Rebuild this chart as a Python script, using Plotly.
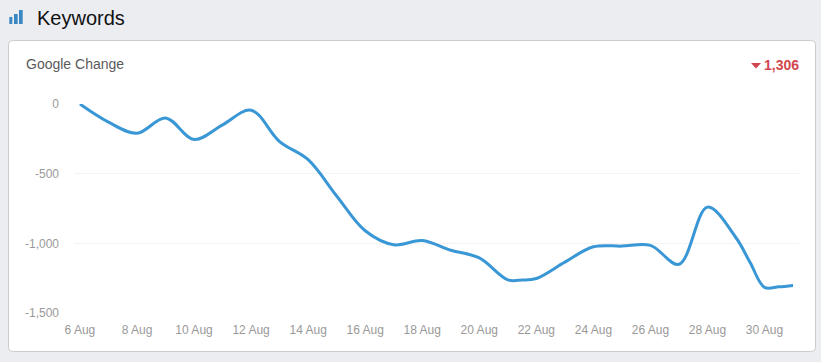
import plotly.graph_objects as go

W, H = 821, 362

days = ["2023-08-06", "2023-08-07", "2023-08-08", "2023-08-09", "2023-08-10", "2023-08-11",
        "2023-08-12", "2023-08-13", "2023-08-14", "2023-08-15", "2023-08-16", "2023-08-17",
        "2023-08-18", "2023-08-19", "2023-08-20", "2023-08-21", "2023-08-21 12:00", "2023-08-22",
        "2023-08-23", "2023-08-24", "2023-08-25", "2023-08-26", "2023-08-27", "2023-08-28",
        "2023-08-29", "2023-08-29 12:00", "2023-08-30", "2023-08-30 12:00", "2023-08-31"]
values = [0, -130, -210, -100, -255, -150, -45, -270, -400, -660, -910, -1010,
          -980, -1050, -1105, -1262, -1263, -1252, -1135, -1025, -1020, -1015, -1150, -740,
          -960, -1140, -1316, -1312, -1302]
tick_values = [0, -500, -1000, -1500]
tick_labels = ["0", "-500", "-1,000", "-1,500"]
title_text = "Keywords"
card_title = "Google Change"
change_text = "1,306"

BLUE = "#3a97d6"
RED = "#d2474f"
TICK = "#999999"
FONT = "Liberation Sans, Arial, sans-serif"


def px(x):
    return x / W


def py(y):
    return 1 - y / H


def rounded(x0, y0, x1, y1, r):
    return (f"M{px(x0+r)},{py(y0)} L{px(x1-r)},{py(y0)} Q{px(x1)},{py(y0)} {px(x1)},{py(y0+r)} "
            f"L{px(x1)},{py(y1-r)} Q{px(x1)},{py(y1)} {px(x1-r)},{py(y1)} "
            f"L{px(x0+r)},{py(y1)} Q{px(x0)},{py(y1)} {px(x0)},{py(y1-r)} "
            f"L{px(x0)},{py(y0+r)} Q{px(x0)},{py(y0)} {px(x0+r)},{py(y0)} Z")


shapes = [
    dict(type="path", xref="paper", yref="paper", path=rounded(8.5, 40.5, 815.5, 351.5, 4),
         fillcolor="#ffffff", line=dict(color="#c9cbce", width=1), layer="below"),
    dict(type="rect", xref="paper", yref="paper", x0=px(9.3), x1=px(12.3), y0=py(24), y1=py(17),
         fillcolor="#3a87c4", line_width=0),
    dict(type="rect", xref="paper", yref="paper", x0=px(14), x1=px(17.7), y0=py(24), y1=py(14),
         fillcolor="#3a87c4", line_width=0),
    dict(type="rect", xref="paper", yref="paper", x0=px(19), x1=px(22.7), y0=py(24), y1=py(10),
         fillcolor="#3a87c4", line_width=0),
    dict(type="path", xref="paper", yref="paper",
         path=f"M{px(751)},{py(63)} L{px(761)},{py(63)} L{px(756)},{py(68.5)} Z",
         fillcolor=RED, line_width=0),
]

fig = go.Figure(go.Scatter(
    x=days, y=values, mode="lines", cliponaxis=False, hoverinfo="skip",
    line=dict(color=BLUE, width=3, shape="spline", smoothing=1.0),
))

fig.update_layout(
    width=W, height=H, margin=dict(l=0, r=0, t=0, b=0, autoexpand=False),
    paper_bgcolor="#ebedf1", plot_bgcolor="rgba(0,0,0,0)", showlegend=False,
    font=dict(family=FONT, color=TICK, size=12), shapes=shapes,
    xaxis=dict(domain=[px(74), px(799)], type="date",
               range=["2023-08-05 19:00", "2023-08-31 05:00"],
               tick0="2023-08-06", dtick=2 * 86400000, tickformat="%-d Aug",
               showgrid=False, zeroline=False, showline=False, ticks="",
               ticklabelstandoff=8, tickfont=dict(size=12, color=TICK)),
    yaxis=dict(domain=[py(313), py(104)], range=[-1500, 0], tickvals=tick_values,
               ticktext=tick_labels, gridcolor="#f3f3f3", gridwidth=1, zeroline=False,
               showline=False, ticks="", ticklabelstandoff=14,
               tickfont=dict(size=12, color=TICK)),
    annotations=[
        dict(xref="paper", yref="paper", x=px(35), y=py(17.5), text=title_text, showarrow=False,
             xanchor="left", yanchor="middle", font=dict(size=20, color="#111111", family=FONT)),
        dict(xref="paper", yref="paper", x=px(24), y=py(64), text=card_title, showarrow=False,
             xanchor="left", yanchor="middle", font=dict(size=14, color="#5a5a5a", family=FONT)),
        dict(xref="paper", yref="paper", x=px(801), y=py(65), text=f"<b>{change_text}</b>", showarrow=False,
             xanchor="right", yanchor="middle", font=dict(size=14, color=RED, family=FONT)),
    ],
)

fig.write_html("out.html", config=dict(displayModeBar=False),
               post_script="document.body.style.margin='0';document.body.style.background='#ebedf1';")
